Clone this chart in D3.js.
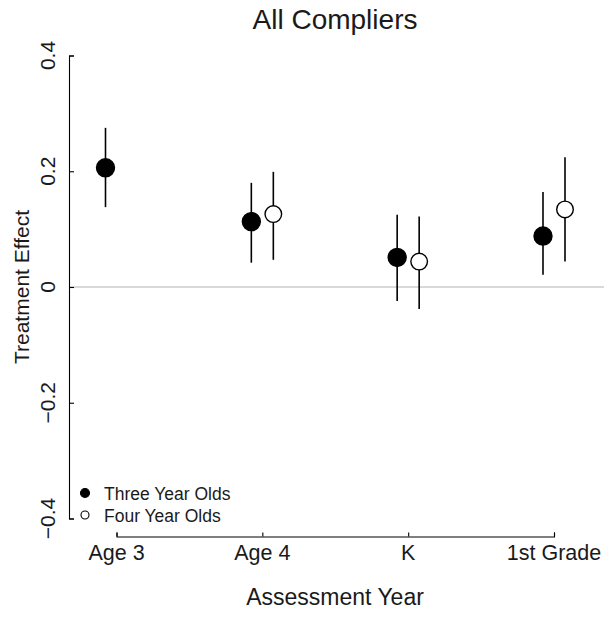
<!DOCTYPE html>
<html>
<head>
<meta charset="utf-8">
<script src="https://cdn.jsdelivr.net/npm/d3@7"></script>
<style>
  html, body { margin: 0; padding: 0; background: #fff; }
  svg { display: block; font-family: "Liberation Sans", Arial, Helvetica, sans-serif; }
</style>
</head>
<body>
<svg id="chart" width="604" height="622"></svg>
<script>
// ---- data ----
const categories = ["Age 3", "Age 4", "K", "1st Grade"];
const seriesNames = ["Three Year Olds", "Four Year Olds"];
const threeEst = [0.206, 0.113, 0.051, 0.088];
const threeLo  = [0.138, 0.042, -0.024, 0.021];
const threeHi  = [0.275, 0.180, 0.125, 0.164];
const fourEst  = [null, 0.126, 0.044, 0.134];
const fourLo   = [null, 0.047, -0.038, 0.044];
const fourHi   = [null, 0.199, 0.122, 0.224];
const yTicks = [-0.4, -0.2, 0, 0.2, 0.4];
const yTickLabels = ["\u22120.4", "\u22120.2", "0", "0.2", "0.4"];
const title = "All Compliers";
const xTitle = "Assessment Year";
const yTitle = "Treatment Effect";

// ---- layout ----
const svg = d3.select("#chart");
const W = 604;
const axisX = 69, axisY = 536.5;
const textColor = "#1a1a1a";

const x = d3.scalePoint().domain(categories).range([116.5, 554]);
const y = d3.scaleLinear().domain([-0.4, 0.4]).range([518.5, 55.5]);
const offset = 11;

// zero reference line
svg.append("line")
  .attr("x1", axisX).attr("x2", W)
  .attr("y1", y(0)).attr("y2", y(0))
  .attr("stroke", "#b3b3b3").attr("stroke-width", 1);

// y axis
const yAxis = svg.append("g")
  .attr("transform", `translate(${axisX},0)`)
  .call(d3.axisLeft(y).tickValues(yTicks).tickSizeInner(-5).tickSizeOuter(-5).tickFormat(""));
yAxis.selectAll("path, line").attr("stroke", "#000").attr("stroke-width", 1.1);
yAxis.selectAll(".tick text").remove();

svg.append("g").selectAll("text")
  .data(yTicks)
  .join("text")
  .attr("transform", (d) => `translate(55,${y(d)}) rotate(-90)`)
  .attr("text-anchor", "middle")
  .attr("font-size", 21)
  .attr("fill", textColor)
  .text((d, i) => yTickLabels[i]);

// x axis
const xAxis = svg.append("g")
  .attr("transform", `translate(0,${axisY})`)
  .call(d3.axisBottom(x).tickSizeInner(-4).tickSizeOuter(-4).tickFormat(""));
xAxis.selectAll("path, line").attr("stroke", "#000").attr("stroke-width", 1.1);
xAxis.selectAll(".tick text").remove();

svg.append("g").selectAll("text")
  .data(categories)
  .join("text")
  .attr("x", (d) => x(d))
  .attr("y", 560)
  .attr("text-anchor", "middle")
  .attr("font-size", 21.5)
  .attr("fill", textColor)
  .text((d) => d);

// titles
svg.append("text")
  .attr("x", 335).attr("y", 28.5)
  .attr("text-anchor", "middle")
  .attr("font-size", 28)
  .attr("fill", textColor)
  .text(title);

svg.append("text")
  .attr("x", 335).attr("y", 605)
  .attr("text-anchor", "middle")
  .attr("font-size", 23)
  .attr("fill", textColor)
  .text(xTitle);

svg.append("text")
  .attr("transform", `translate(29,${y(0)}) rotate(-90)`)
  .attr("text-anchor", "middle")
  .attr("font-size", 21)
  .attr("fill", textColor)
  .text(yTitle);

// build series
const series = [
  { name: seriesNames[0], est: threeEst, lo: threeLo, hi: threeHi, dx: -offset, fill: "#000", r: 9 },
  { name: seriesNames[1], est: fourEst, lo: fourLo, hi: fourHi, dx: offset, fill: "#fff", r: 8.3 }
];

series.forEach((s) => {
  const pts = categories.map((c, i) => ({ c, est: s.est[i], lo: s.lo[i], hi: s.hi[i] }))
    .filter((d) => d.est !== null);
  const g = svg.append("g");
  g.selectAll("line")
    .data(pts)
    .join("line")
    .attr("x1", (d) => x(d.c) + s.dx).attr("x2", (d) => x(d.c) + s.dx)
    .attr("y1", (d) => y(d.lo)).attr("y2", (d) => y(d.hi))
    .attr("stroke", "#000").attr("stroke-width", 1.6);
  g.selectAll("circle")
    .data(pts)
    .join("circle")
    .attr("cx", (d) => x(d.c) + s.dx)
    .attr("cy", (d) => y(d.est))
    .attr("r", s.r)
    .attr("fill", s.fill)
    .attr("stroke", "#000").attr("stroke-width", 1.4);
});

// legend
const legend = svg.append("g");
const legendItems = [
  { name: seriesNames[0], fill: "#000", r: 4.5, cy: 493, ty: 499.5 },
  { name: seriesNames[1], fill: "#fff", r: 4, cy: 515, ty: 521.5 }
];
legend.selectAll("circle")
  .data(legendItems)
  .join("circle")
  .attr("cx", 85).attr("cy", (d) => d.cy).attr("r", (d) => d.r)
  .attr("fill", (d) => d.fill).attr("stroke", "#000").attr("stroke-width", 1.1);
legend.selectAll("text")
  .data(legendItems)
  .join("text")
  .attr("x", 104).attr("y", (d) => d.ty)
  .attr("font-size", 17.5)
  .attr("fill", textColor)
  .text((d) => d.name);
</script>
</body>
</html>
